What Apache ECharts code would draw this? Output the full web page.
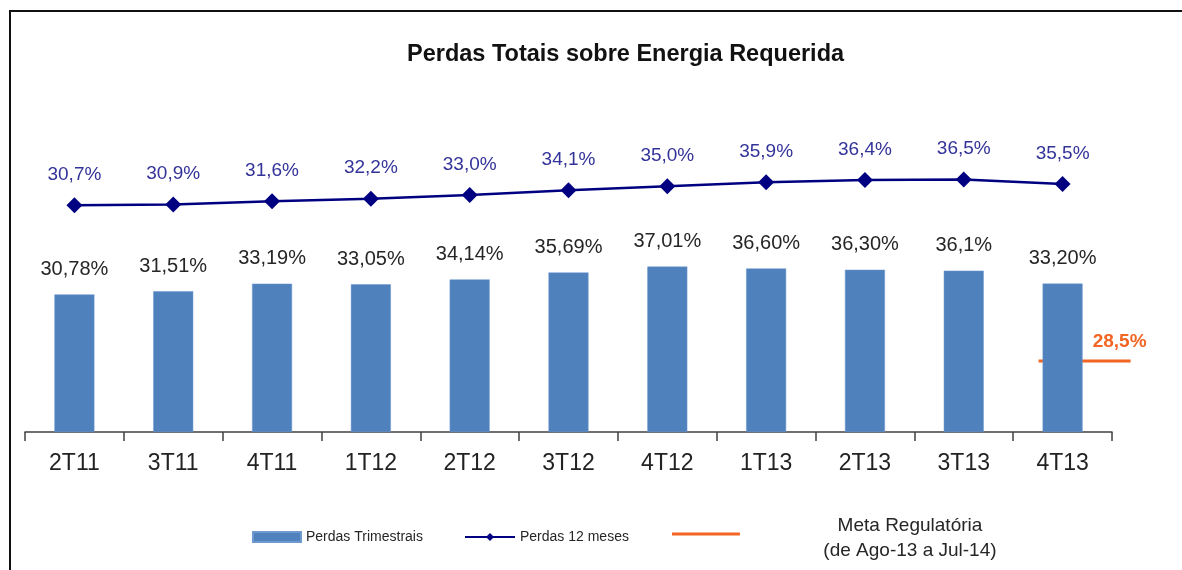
<!DOCTYPE html>
<html>
<head>
<meta charset="utf-8">
<script src="https://cdn.jsdelivr.net/npm/echarts@6/dist/echarts.min.js"></script>
<style>
  html, body {margin: 0; padding: 0; background: #fff;}
  #chart {width: 1182px; height: 570px;}
</style>
</head>
<body>
<div id="chart"></div>
<script>
var categories = ['2T11', '3T11', '4T11', '1T12', '2T12', '3T12', '4T12', '1T13', '2T13', '3T13', '4T13']
var perdasTrimestrais = [30.78, 31.51, 33.19, 33.05, 34.14, 35.69, 37.01, 36.60, 36.30, 36.1, 33.20]
var perdasTrimLabels = ['30,78%', '31,51%', '33,19%', '33,05%', '34,14%', '35,69%', '37,01%', '36,60%', '36,30%', '36,1%', '33,20%']
var perdas12Meses = [30.7, 30.9, 31.6, 32.2, 33.0, 34.1, 35.0, 35.9, 36.4, 36.5, 35.5]
var metaRegulatoria = 28.5

var FONT = "'Liberation Sans', Arial, sans-serif"
var fmt = function (v, d) {
  return v.toFixed(d).replace('.', ',') + '%'
}

var chart = echarts.init(document.getElementById('chart'))

var option = {
  backgroundColor: '#fff',
  animation: false,
  title: {
    text: 'Perdas Totais sobre Energia Requerida',
    left: 402,
    top: 38,
    textStyle: {fontFamily: FONT, fontSize: 23.5, fontWeight: 'bold', color: '#111'}
  },
  graphic: [{
    type: 'rect',
    shape: {x: 10, y: 11, width: 1250, height: 620},
    style: {fill: 'none', stroke: '#111', lineWidth: 2},
    z: -1
  }],
  legend: [
    {
      data: [{name: 'Perdas Trimestrais', icon: 'rect'}],
      left: 247, top: 525,
      itemWidth: 48, itemHeight: 10,
      textStyle: {fontFamily: FONT, fontSize: 14, color: '#262626'}
    },
    {
      data: ['Perdas 12 meses'],
      left: 459, top: 525,
      itemWidth: 50, itemHeight: 10,
      textStyle: {fontFamily: FONT, fontSize: 14, color: '#262626'}
    },
    {
      // pequeno ponto invisivel embaixo para subir a linha laranja
      data: [{name: 'Meta Regulatória\n(de Ago-13 a Jul-14)', icon: 'path://M0,0H68V3H0Z M0,11H0.01V11.01H0Z'}],
      left: 667, top: 511,
      itemWidth: 68, itemHeight: 11,
      formatter: function () {
        return '{a|Meta Regulatória}\n{a|(de Ago-13 a Jul-14)}'
      },
      textStyle: {
        fontFamily: FONT, fontSize: 19, color: '#262626',
        rich: {a: {fontFamily: FONT, fontSize: 19, color: '#262626', lineHeight: 25, width: 330, align: 'center'}}
      }
    }
  ],
  grid: {left: 25, right: 70, top: 74.4, bottom: 138},
  xAxis: {
    type: 'category',
    data: categories,
    axisLine: {lineStyle: {color: '#404040', width: 1.5}},
    axisTick: {show: true, length: 9, lineStyle: {color: '#404040', width: 1.5}},
    axisLabel: {fontFamily: FONT, fontSize: 23, color: '#222', margin: 20}
  },
  yAxis: [
    {type: 'value', min: 0, max: 80, show: false, splitLine: {show: false}},
    {type: 'value', min: -20, max: 60, show: false, splitLine: {show: false}},
    {type: 'value', min: 12.6, max: 92.6, show: false, splitLine: {show: false}}
  ],
  series: [
    {
      name: 'Perdas Trimestrais',
      type: 'bar',
      data: perdasTrimestrais,
      barWidth: 40,
      itemStyle: {color: '#4f81bd', borderColor: '#6f9ad0', borderWidth: 0.5},
      label: {
        show: true,
        position: 'top',
        distance: 15,
        fontFamily: FONT,
        fontSize: 20,
        color: '#262626',
        formatter: function (p) {
          return perdasTrimLabels[p.dataIndex]
        }
      }
    },
    {
      name: 'Perdas 12 meses',
      type: 'line',
      yAxisIndex: 1,
      data: perdas12Meses,
      symbol: 'diamond',
      symbolSize: 16,
      lineStyle: {color: '#000080', width: 2.5},
      itemStyle: {color: '#000080'},
      label: {
        show: true,
        position: 'top',
        distance: 13,
        fontFamily: FONT,
        fontSize: 19,
        color: '#333399',
        formatter: function (p) {
          return fmt(p.value, 1)
        }
      }
    },
    {
      name: 'Meta Regulatória\n(de Ago-13 a Jul-14)',
      type: 'custom',
      yAxisIndex: 2,
      itemStyle: {color: '#f26522'},
      data: [[categories.length - 1, metaRegulatoria]],
      renderItem: function (params, api) {
        var pt = api.coord([api.value(0), api.value(1)])
        return {
          type: 'group',
          children: [
            {
              type: 'line',
              shape: {x1: pt[0] - 24, y1: pt[1], x2: pt[0] + 68, y2: pt[1]},
              style: {stroke: '#f26522', lineWidth: 3}
            },
            {
              type: 'text',
              style: {
                x: pt[0] + 57, y: pt[1] - 19,
                text: fmt(api.value(1), 1),
                textAlign: 'center', textVerticalAlign: 'middle',
                font: 'bold 19px ' + FONT,
                fill: '#f26522'
              }
            }
          ]
        }
      }
    }
  ]
}

chart.setOption(option)
</script>
</body>
</html>
